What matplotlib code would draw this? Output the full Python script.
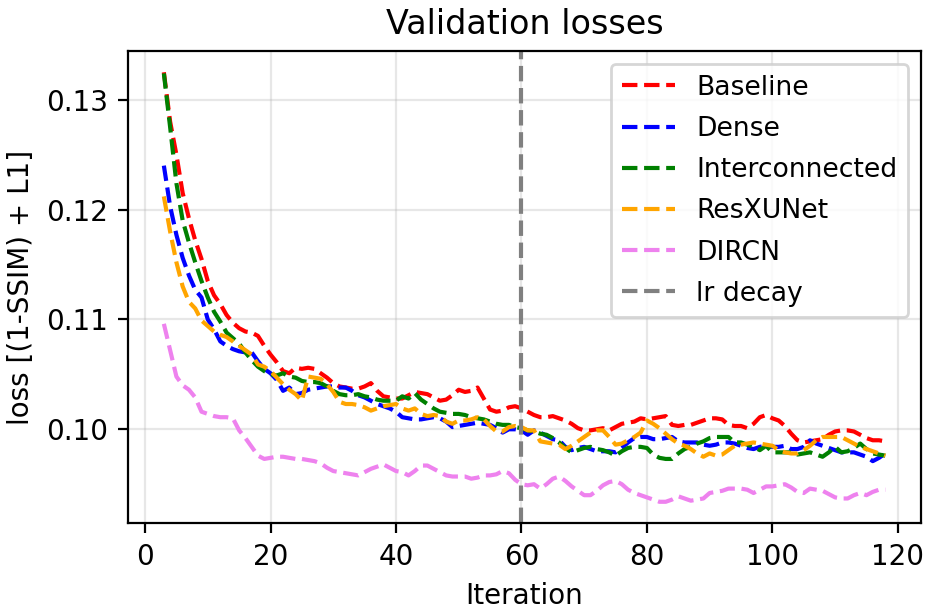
"""
Validation loss curves for the reconstruction networks.
"""

import matplotlib

matplotlib.use("Agg")
import matplotlib.pyplot as plt
import numpy as np

# ---------------------------------------------------------------------------
# Data (read off the validation log, iterations 3..118)
# ---------------------------------------------------------------------------

iterations = list(range(3, 119))

baseline = [
    0.1325, 0.1280, 0.1250, 0.1215, 0.1192, 0.1172, 0.1155, 0.1135, 0.1122, 0.1114,
    0.1104, 0.1097, 0.1092, 0.1089, 0.1088, 0.1085, 0.1076, 0.1068, 0.1061, 0.1053,
    0.1051, 0.1056, 0.1055, 0.1056, 0.1055, 0.1051, 0.1047, 0.1042, 0.1039, 0.1038,
    0.1037, 0.1037, 0.1039, 0.1042, 0.1035, 0.1030, 0.1029, 0.1028, 0.1028, 0.1031,
    0.1034, 0.1033, 0.1032, 0.1029, 0.1026, 0.1027, 0.1031, 0.1036, 0.1034, 0.1035,
    0.1038, 0.1028, 0.1018, 0.1016, 0.1017, 0.1020, 0.1021, 0.1019, 0.1016, 0.1013,
    0.1011, 0.1011, 0.1012, 0.1010, 0.1008, 0.1005, 0.1001, 0.0999, 0.0999, 0.1000,
    0.1001, 0.0999, 0.1002, 0.1005, 0.1006, 0.1007, 0.1010, 0.1009, 0.1010, 0.1011,
    0.1012, 0.1004, 0.1003, 0.1004, 0.1004, 0.1006, 0.1008, 0.1010, 0.1010, 0.1009,
    0.1004, 0.1003, 0.1003, 0.1001, 0.1005, 0.1011, 0.1013, 0.1010, 0.1008, 0.1003,
    0.0996, 0.0990, 0.0988, 0.0989, 0.0990, 0.0991, 0.0995, 0.0998, 0.0999, 0.0999,
    0.0998, 0.0995, 0.0992, 0.0990, 0.0990, 0.0989,
]

dense = [
    0.1240, 0.1203, 0.1177, 0.1156, 0.1140, 0.1127, 0.1120, 0.1100, 0.1091, 0.1080,
    0.1076, 0.1073, 0.1071, 0.1070, 0.1070, 0.1062, 0.1055, 0.1051, 0.1045, 0.1035,
    0.1038, 0.1032, 0.1033, 0.1036, 0.1037, 0.1038, 0.1039, 0.1039, 0.1038, 0.1038,
    0.1035, 0.1031, 0.1029, 0.1026, 0.1023, 0.1021, 0.1019, 0.1016, 0.1011, 0.1010,
    0.1009, 0.1009, 0.1010, 0.1011, 0.1010, 0.1007, 0.1002, 0.1003, 0.1004, 0.1005,
    0.1006, 0.1005, 0.1004, 0.1001, 0.0997, 0.1000, 0.1000, 0.0999, 0.0995, 0.0999,
    0.0997, 0.0994, 0.0991, 0.0990, 0.0984, 0.0981, 0.0983, 0.0984, 0.0982, 0.0980,
    0.0980, 0.0980, 0.0979, 0.0983, 0.0988, 0.0992, 0.0993, 0.0993, 0.0991, 0.0991,
    0.0992, 0.0993, 0.0989, 0.0988, 0.0988, 0.0988, 0.0986, 0.0985, 0.0986, 0.0988,
    0.0988, 0.0987, 0.0985, 0.0983, 0.0982, 0.0984, 0.0985, 0.0984, 0.0984, 0.0985,
    0.0982, 0.0982, 0.0984, 0.0990, 0.0987, 0.0985, 0.0983, 0.0981, 0.0979, 0.0979,
    0.0979, 0.0977, 0.0975, 0.0971, 0.0974, 0.0978,
]

interconnected = [
    0.1324, 0.1275, 0.1224, 0.1190, 0.1170, 0.1152, 0.1135, 0.1120, 0.1107, 0.1098,
    0.1088, 0.1083, 0.1078, 0.1070, 0.1063, 0.1057, 0.1053, 0.1050, 0.1049, 0.1051,
    0.1048, 0.1047, 0.1044, 0.1043, 0.1043, 0.1042, 0.1039, 0.1035, 0.1032, 0.1031,
    0.1031, 0.1032, 0.1030, 0.1029, 0.1027, 0.1026, 0.1026, 0.1026, 0.1030, 0.1028,
    0.1033, 0.1027, 0.1023, 0.1019, 0.1016, 0.1015, 0.1014, 0.1014, 0.1013, 0.1011,
    0.1010, 0.1009, 0.1007, 0.1005, 0.1004, 0.1004, 0.1002, 0.1001, 0.0999, 0.0998,
    0.0996, 0.0995, 0.0992, 0.0988, 0.0983, 0.0979, 0.0981, 0.0983, 0.0984, 0.0982,
    0.0981, 0.0979, 0.0976, 0.0980, 0.0983, 0.0984, 0.0984, 0.0983, 0.0977, 0.0974,
    0.0973, 0.0973, 0.0978, 0.0982, 0.0984, 0.0987, 0.0989, 0.0992, 0.0993, 0.0993,
    0.0993, 0.0988, 0.0988, 0.0986, 0.0984, 0.0981, 0.0985, 0.0979, 0.0979, 0.0979,
    0.0979, 0.0977, 0.0978, 0.0979, 0.0977, 0.0975, 0.0979, 0.0984, 0.0979, 0.0980,
    0.0983, 0.0987, 0.0982, 0.0978, 0.0977, 0.0976,
]

resxunet = [
    0.1212, 0.1180, 0.1152, 0.1130, 0.1116, 0.1110, 0.1099, 0.1094, 0.1089, 0.1086,
    0.1084, 0.1080, 0.1076, 0.1072, 0.1068, 0.1059, 0.1057, 0.1053, 0.1047, 0.1041,
    0.1036, 0.1032, 0.1026, 0.1048, 0.1047, 0.1046, 0.1041, 0.1034, 0.1025, 0.1023,
    0.1023, 0.1022, 0.1020, 0.1017, 0.1019, 0.1021, 0.1022, 0.1023, 0.1019, 0.1017,
    0.1019, 0.1014, 0.1012, 0.1013, 0.1012, 0.1007, 0.1005, 0.1008, 0.1008, 0.1009,
    0.1011, 0.1009, 0.1003, 0.0998, 0.0998, 0.1002, 0.1003, 0.1002, 0.0999, 0.0999,
    0.0989, 0.0988, 0.0987, 0.0986, 0.0982, 0.0985, 0.0989, 0.0993, 0.0997, 0.0999,
    0.0999, 0.0993, 0.0986, 0.0987, 0.0990, 0.0993, 0.0997, 0.1008, 0.1005, 0.1001,
    0.0996, 0.0991, 0.0987, 0.0985, 0.0982, 0.0978, 0.0975, 0.0978, 0.0976, 0.0977,
    0.0981, 0.0985, 0.0986, 0.0987, 0.0988, 0.0987, 0.0986, 0.0985, 0.0981, 0.0979,
    0.0978, 0.0978, 0.0981, 0.0985, 0.0990, 0.0993, 0.0993, 0.0993, 0.0993, 0.0990,
    0.0987, 0.0984, 0.0982, 0.0980, 0.0978, 0.0976,
]

dircn = [
    0.1096, 0.1072, 0.1048, 0.1040, 0.1036, 0.1029, 0.1016, 0.1014, 0.1012, 0.1011,
    0.1011, 0.1010, 0.0999, 0.0992, 0.0984, 0.0976, 0.0973, 0.0974, 0.0975, 0.0975,
    0.0974, 0.0973, 0.0973, 0.0972, 0.0971, 0.0969, 0.0965, 0.0962, 0.0961, 0.0960,
    0.0959, 0.0958, 0.0961, 0.0964, 0.0966, 0.0968, 0.0965, 0.0962, 0.0961, 0.0958,
    0.0962, 0.0967, 0.0967, 0.0964, 0.0961, 0.0958, 0.0957, 0.0957, 0.0957, 0.0955,
    0.0956, 0.0958, 0.0958, 0.0959, 0.0962, 0.0960, 0.0954, 0.0950, 0.0949, 0.0950,
    0.0946, 0.0950, 0.0955, 0.0957, 0.0953, 0.0948, 0.0944, 0.0940, 0.0940, 0.0944,
    0.0949, 0.0952, 0.0953, 0.0950, 0.0945, 0.0942, 0.0940, 0.0938, 0.0936, 0.0934,
    0.0934, 0.0936, 0.0939, 0.0937, 0.0935, 0.0936, 0.0937, 0.0942, 0.0943, 0.0944,
    0.0946, 0.0946, 0.0946, 0.0945, 0.0942, 0.0945, 0.0948, 0.0948, 0.0949, 0.0950,
    0.0947, 0.0943, 0.0942, 0.0946, 0.0945, 0.0944, 0.0941, 0.0938, 0.0937, 0.0937,
    0.0940, 0.0942, 0.0940, 0.0943, 0.0945, 0.0945,
]

lr_decay_iter = 60

series_names = ["Baseline", "Dense", "Interconnected", "ResXUNet", "DIRCN"]
series_colours = ["red", "blue", "green", "orange", "violet"]


def plot_validation_losses(save_path="out.png"):
    fig, ax = plt.subplots(figsize=(4.63, 3.06), dpi=200)

    for name, colour, values in zip(
        series_names, series_colours,
        [baseline, dense, interconnected, resxunet, dircn],
    ):
        ax.plot(iterations, np.asarray(values), "--", color=colour, label=name)

    ax.axvline(lr_decay_iter, color="grey", linestyle="--", label="lr decay")

    ax.set_title("Validation losses")
    ax.set_xlabel("Iteration")
    ax.set_ylabel("loss [(1-SSIM) + L1]")
    ax.set_xticks([0, 20, 40, 60, 80, 100, 120])
    ax.set_yticks([0.10, 0.11, 0.12, 0.13])
    ax.grid(alpha=0.3)
    ax.legend(loc="upper right", fontsize=9.6, labelspacing=0.57)

    fig.subplots_adjust(left=0.138, right=0.995, top=0.917, bottom=0.145)
    fig.savefig(save_path, dpi=200)
    plt.close(fig)


if __name__ == "__main__":
    plot_validation_losses()
